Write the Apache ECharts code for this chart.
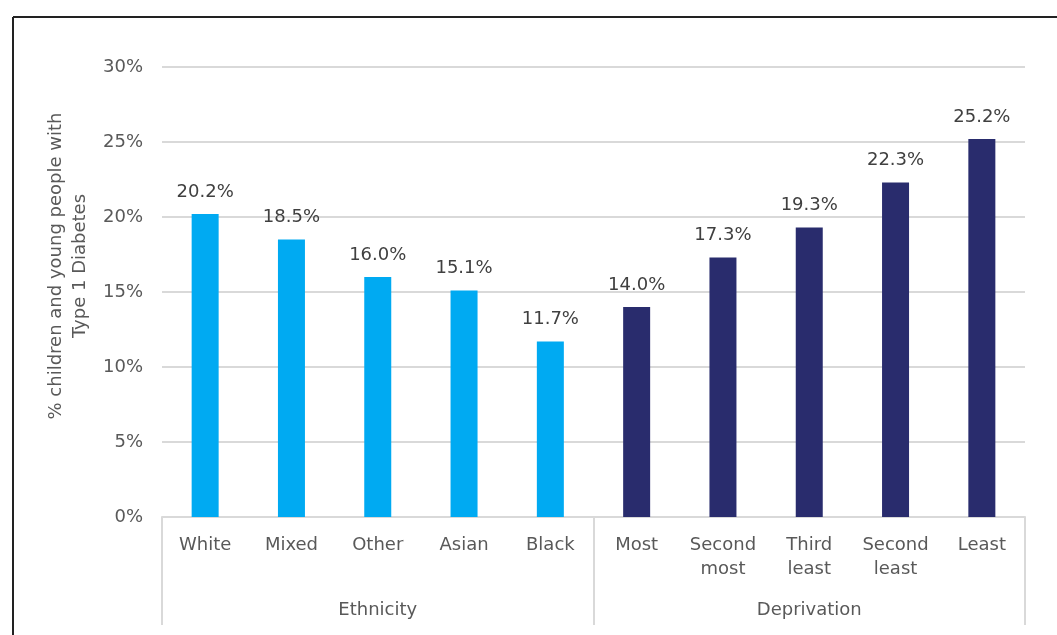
<!DOCTYPE html>
<html>
<head>
<meta charset="utf-8">
<script src="https://cdn.jsdelivr.net/npm/echarts@6/dist/echarts.min.js"></script>
<style>
html,body{margin:0;padding:0;background:#fff;}
#chart{width:1057px;height:635px;}
</style>
</head>
<body>
<div id="chart"></div>
<script>
const categories = ['White','Mixed','Other','Asian','Black','Most','Second\nmost','Third\nleast','Second\nleast','Least'];
const values = [20.2, 18.5, 16.0, 15.1, 11.7, 14.0, 17.3, 19.3, 22.3, 25.2];
const groupNames = ['Ethnicity','Deprivation'];
const groupSizes = [5, 5];
const groupColors = ['#00AAF2', '#292C6D'];
const yTicks = [0, 5, 10, 15, 20, 25, 30];
const yTitle = '% children and young people with\nType 1 Diabetes';

const FONT = '"DejaVu Sans", sans-serif';
const FS = 18;
const barColors = [];
groupSizes.forEach((n, gi) => { for (let i = 0; i < n; i++) barColors.push(groupColors[gi]); });

const chart = echarts.init(document.getElementById('chart'));
chart.setOption({
  animation: false,
  textStyle: { fontFamily: FONT },
  grid: { left: 162, right: 32, top: 67, bottom: 118 },
  graphic: [
    { type: 'line', shape: { x1: 13, y1: 17, x2: 1057, y2: 17 }, style: { stroke: '#222', lineWidth: 2 } },
    { type: 'line', shape: { x1: 13, y1: 17, x2: 13, y2: 635 }, style: { stroke: '#222', lineWidth: 2 } },
    { type: 'text', x: 68, y: 266, rotation: Math.PI / 2,
      style: { text: yTitle, fill: '#595959', font: FS + 'px ' + FONT, align: 'center', verticalAlign: 'middle', lineHeight: 24 } }
  ],
  xAxis: [
    {
      type: 'category', data: categories, position: 'bottom',
      axisLine: { lineStyle: { color: '#d9d9d9', width: 2 } },
      axisTick: { show: false },
      axisLabel: { color: '#595959', fontSize: FS, lineHeight: 24, margin: 16, interval: 0, fontFamily: FONT }
    },
    {
      type: 'category', data: groupNames, position: 'bottom',
      axisLine: { show: false },
      axisTick: { show: true, length: 108, lineStyle: { color: '#d9d9d9', width: 2 } },
      axisLabel: { color: '#595959', fontSize: FS, lineHeight: 24, margin: 81, fontFamily: FONT }
    }
  ],
  yAxis: {
    type: 'value', min: yTicks[0], max: yTicks[yTicks.length - 1], interval: 5,
    axisLine: { show: false }, axisTick: { show: false },
    splitLine: { lineStyle: { color: '#d9d9d9', width: 2 } },
    axisLabel: { color: '#595959', fontSize: FS, margin: 19, formatter: v => v + '%', fontFamily: FONT }
  },
  series: [{
    type: 'bar', xAxisIndex: 0,
    data: values.map((v, i) => ({ value: v, itemStyle: { color: barColors[i] } })),
    barWidth: 27,
    label: { show: true, position: 'top', distance: 13, color: '#404040', fontSize: FS, fontFamily: FONT,
      formatter: p => p.value.toFixed(1) + '%' }
  }]
});
</script>
</body>
</html>
